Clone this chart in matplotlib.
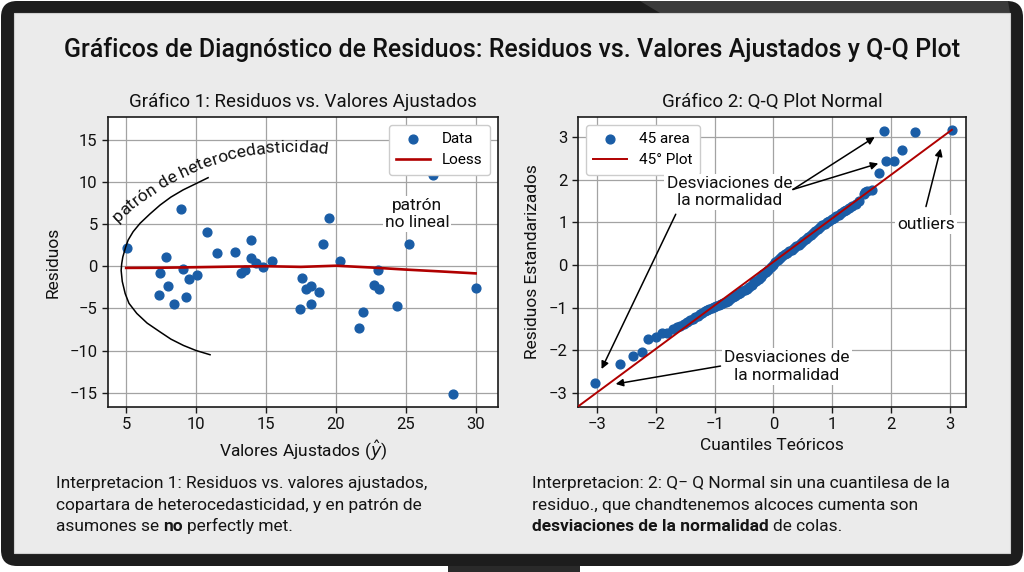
import numpy as np
import matplotlib
matplotlib.use("Agg")
import matplotlib.pyplot as plt
from matplotlib.patches import FancyBboxPatch, Rectangle, Polygon
from matplotlib.transforms import IdentityTransform

plt.rcParams['font.family'] = ['Roboto', 'DejaVu Sans']
plt.rcParams['mathtext.fontset'] = 'dejavusans'
plt.rcParams['axes.unicode_minus'] = True

# ---------------- data ----------------
fitted = [5.05, 7.34, 7.45, 7.85, 7.98, 8.43, 8.9, 9.05, 9.26, 9.5, 10.05, 10.8,
          11.5, 12.8, 13.2, 13.5, 13.9, 13.9, 14.3, 14.8, 15.4, 17.4, 17.6, 17.9,
          18.2, 18.2, 18.76, 19.05, 19.5, 20.3, 21.67, 21.95, 22.7, 23.0, 23.1,
          23.7, 24.35, 25.2, 26.95, 28.4, 30.0]
resid = [2.2, -3.45, -0.83, 1.07, -2.35, -4.49, 6.8, -0.36, -3.65, -1.55, -1.03, 4.0,
         1.6, 1.7, -0.75, -0.5, 3.06, 1.03, 0.36, -0.15, 0.63, -5.04, -1.42, -2.74,
         -2.35, -4.49, -3.06, 2.58, 5.75, 0.67, -7.38, -5.4, -2.18, -0.4, -2.66,
         5.5, -4.68, 2.58, 10.8, -15.2, -2.54]
loess_x = [5, 7.5, 10, 12.5, 15, 17.5, 20, 22.5, 25, 27.5, 30]
loess_y = [-0.2, -0.18, -0.12, -0.05, 0.0, -0.08, 0.06, -0.15, -0.4, -0.62, -0.85]

arc_x = [11.0, 10.0, 9.1, 8.2, 7.43, 6.5, 5.76, 5.2, 4.93, 4.72, 4.64, 4.68, 4.76,
         4.95, 5.14, 5.5, 6.0, 6.7, 7.43, 8.2, 9.07, 10.0, 10.86]
arc_y = [-10.5, -10.0, -9.4, -8.65, -7.8, -6.75, -5.6, -4.4, -3.25, -1.8, -0.5, 0.3,
         1.1, 2.2, 3.1, 4.1, 5.1, 6.2, 7.26, 8.2, 9.05, 9.8, 10.5]

qq_theo = [-3.03, -2.6, -2.39, -2.24, -2.13, -2.0, -1.9, -1.8, -1.71,
           -1.64, -1.58, -1.52, -1.47, -1.42, -1.37, -1.33, -1.29, -1.25, -1.21,
           -1.17, -1.13, -1.09, -1.05, -1.01, -0.97, -0.93, -0.89, -0.85, -0.81,
           -0.77, -0.73, -0.69, -0.65, -0.61, -0.57, -0.53, -0.49, -0.45, -0.41,
           -0.37, -0.33, -0.29, -0.25, -0.21, -0.17, -0.13, -0.09, -0.05, -0.01,
           0.03, 0.07, 0.11, 0.15, 0.19, 0.23, 0.27, 0.31, 0.35, 0.39, 0.43, 0.47,
           0.51, 0.55, 0.59, 0.63, 0.67, 0.71, 0.75, 0.79, 0.83, 0.87, 0.91, 0.95,
           0.99, 1.03, 1.07, 1.11, 1.15, 1.19, 1.24, 1.29, 1.34, 1.40, 1.46, 1.53,
           1.56, 1.59, 1.67,
           1.8, 1.91, 2.04, 2.18, 1.88, 2.41, 3.03]
qq_std = [-2.76, -2.31, -2.13, -2.05, -1.73, -1.69, -1.59, -1.59, -1.5,
          -1.46, -1.42, -1.38, -1.34, -1.30, -1.26, -1.22, -1.19, -1.15, -1.12,
          -1.09, -1.06, -1.03, -1.00, -0.98, -0.96, -0.94, -0.92, -0.90, -0.87,
          -0.84, -0.80, -0.76, -0.72, -0.68, -0.65, -0.61, -0.58, -0.56, -0.51,
          -0.46, -0.41, -0.37, -0.32, -0.27, -0.22, -0.17, -0.11, -0.05, 0.01,
          0.07, 0.12, 0.17, 0.21, 0.25, 0.28, 0.32, 0.36, 0.40, 0.44, 0.48, 0.52,
          0.56, 0.61, 0.65, 0.70, 0.74, 0.79, 0.84, 0.89, 0.93, 0.97, 1.01, 1.04,
          1.07, 1.10, 1.14, 1.18, 1.22, 1.26, 1.30, 1.34, 1.38, 1.44, 1.50, 1.66,
          1.72, 1.74, 1.76,
          2.15, 2.44, 2.44, 2.69, 3.14, 3.13, 3.16]
ref_x = [-3.4, 3.03]
ref_y = [-3.4, 3.17]

x1_ticks = [5, 10, 15, 20, 25, 30]
y1_ticks = [-15, -10, -5, 0, 5, 10, 15]
qq_ticks = [-3, -2, -1, 0, 1, 2, 3]

title_main = "Gráficos de Diagnóstico de Residuos: Residuos vs. Valores Ajustados y Q-Q Plot"
title_1 = "Gráfico 1: Residuos vs. Valores Ajustados"
title_2 = "Gráfico 2: Q-Q Plot Normal"
curved_label = "patrón de heterocedasticidad"

interp_left = [
    [("Interpretacion 1: Residuos vs. valores ajustados,", False)],
    [("copartara de heterocedasticidad, y en patrón de", False)],
    [("asumones se", False), ("no", True), ("perfectly met.", False)],
]
interp_right = [
    [("Interpretacion: 2: Q\u2212 Q Normal sin una cuantilesa de la", False)],
    [("residuo., que chandtenemos alcoces cumenta son", False)],
    [("desviaciones de la normalidad", True), ("de colas.", False)],
]

# ---------------- figure / frame ----------------
W, H = 1024, 572
DPI = 100
fig = plt.figure(figsize=(W / DPI, H / DPI), dpi=DPI)
fig.patch.set_facecolor('white')
ID = IdentityTransform()

def D(x, y):
    """image pixel (y down) -> display pixel (y up)"""
    return x, H - y

bx, by = D(1, 566)
fig.add_artist(FancyBboxPatch((bx, by), 1022, 565, boxstyle="round,pad=0,rounding_size=16",
                              transform=ID, facecolor='#1d1d1d', edgecolor='none', zorder=0))
fig.add_artist(Polygon([D(640, 1), D(1008, 1), D(1010, 13), D(660, 13)], closed=True,
                       transform=ID, facecolor='#3b3b3b', edgecolor='none', zorder=0.5))
sx, sy = D(14, 553)
fig.add_artist(Rectangle((sx, sy), 996, 540, transform=ID, facecolor='#ebebeb',
                         edgecolor='#cfcfcf', lw=0.8, zorder=1))
stx, sty = D(448, 572)
fig.add_artist(Rectangle((stx, sty), 132, 6, transform=ID, facecolor='#2a2a2a',
                         edgecolor='none', zorder=0))

BLUE = '#1a5da6'
RED = '#b00000'
GRID = '#a3a3a3'
INK = '#111111'

fig.text(512 / W, 1 - 50 / H, title_main, ha='center', va='center', fontsize=18,
         weight='medium', color=INK, zorder=5)

def style_axes(ax):
    ax.set_facecolor('white')
    ax.grid(True, color=GRID, lw=0.9)
    ax.set_axisbelow(True)
    for sp in ax.spines.values():
        sp.set_color('#1a1a1a')
        sp.set_linewidth(1.2)
    ax.tick_params(labelsize=12, length=4, width=1, color='#1a1a1a', labelcolor=INK)

# ---------------- left panel ----------------
ax1 = fig.add_axes([108 / W, 1 - 407 / H, 390 / W, 290 / H], zorder=3)
style_axes(ax1)
ax1.scatter(fitted, resid, s=40, color=BLUE, zorder=3, label='Data')
ax1.plot(loess_x, loess_y, color=RED, lw=1.9, zorder=4, label='Loess')
ax1.plot(arc_x, arc_y, color='black', lw=1.1, zorder=4)
ax1.set_xlim(3.7, 31.6)
ax1.set_ylim(-16.7, 17.7)
ax1.set_xticks(x1_ticks)
ax1.set_yticks(y1_ticks)
ax1.set_xlabel(r"Valores Ajustados ($\hat{y}$)", fontsize=12.5, labelpad=4, color=INK)
ax1.set_ylabel("Residuos", fontsize=12.5, labelpad=6, color=INK)
ax1.set_title(title_1, fontsize=13.5, pad=7, color=INK)
ax1.legend(loc='upper right', fontsize=11, framealpha=1, edgecolor='#cccccc',
           scatterpoints=1, handlelength=2.2, borderpad=0.5, labelspacing=0.45)
ax1.text(25.8, 6.2, "patrón\nno lineal", ha='center', va='center', fontsize=12.5,
         linespacing=1.2, zorder=5, color=INK,
         bbox=dict(facecolor='white', edgecolor='none', pad=1.5))

# ---------------- right panel ----------------
ax2 = fig.add_axes([578 / W, 1 - 407 / H, 388 / W, 290 / H], zorder=3)
style_axes(ax2)
ax2.scatter(qq_theo, qq_std, s=40, color=BLUE, zorder=3, label='45 area')
ax2.plot(ref_x, ref_y, color=RED, lw=1.4, zorder=4, label='45° Plot')
ax2.set_xlim(-3.32, 3.27)
ax2.set_ylim(-3.33, 3.47)
ax2.set_xticks(qq_ticks)
ax2.set_yticks(qq_ticks)
ax2.set_xlabel("Cuantiles Teóricos", fontsize=12.5, labelpad=4, color=INK)
ax2.set_ylabel("Residuos Estandarizados", fontsize=12.5, labelpad=6, color=INK)
ax2.set_title(title_2, fontsize=13.5, pad=7, color=INK)
ax2.legend(loc='upper left', fontsize=11, framealpha=1, edgecolor='#cccccc',
           scatterpoints=1, handlelength=2.2, borderpad=0.5, labelspacing=0.45)

arr = dict(arrowstyle='-|>', color='black', lw=1.1, mutation_scale=11,
           shrinkA=0, shrinkB=0)
ax2.text(-0.75, 1.71, "Desviaciones de\nla normalidad", ha='center', va='center',
         fontsize=12.5, linespacing=1.2, zorder=6, color=INK,
         bbox=dict(facecolor='white', edgecolor='none', pad=1.5))
ax2.annotate('', xy=(1.72, 3.0), xytext=(0.33, 1.77), arrowprops=arr, zorder=6)
ax2.annotate('', xy=(1.78, 2.38), xytext=(0.33, 1.77), arrowprops=arr, zorder=6)
ax2.annotate('', xy=(-2.92, -2.44), xytext=(-1.66, 1.19), arrowprops=arr, zorder=6)

ax2.text(0.23, -2.38, "Desviaciones de\nla normalidad", ha='center', va='center',
         fontsize=12.5, linespacing=1.2, zorder=6, color=INK,
         bbox=dict(facecolor='white', edgecolor='none', pad=1.5))
ax2.annotate('', xy=(-2.68, -2.79), xytext=(-0.9, -2.37), arrowprops=arr, zorder=6)

ax2.text(2.59, 0.94, "outliers", ha='center', va='center', fontsize=12.5, zorder=6,
         color=INK, bbox=dict(facecolor='white', edgecolor='none', pad=1.5))
ax2.annotate('', xy=(2.84, 2.73), xytext=(2.59, 1.37), arrowprops=arr, zorder=6)

# ---------------- curved label (letters of real text placed along an arc) ----------------
renderer = fig.canvas.get_renderer()

def text_w(s, fs, weight='normal'):
    t = fig.text(0, 0, s, fontsize=fs, weight=weight, transform=ID)
    w = t.get_window_extent(renderer).width
    t.remove()
    return w

p1 = np.array(D(118, 223), float)
p2 = np.array(D(176, 181), float)
p3 = np.array(D(326, 154), float)

def circle3(a, b, c):
    ax_, ay_ = a; bx_, by_ = b; cx_, cy_ = c
    d = 2 * (ax_ * (by_ - cy_) + bx_ * (cy_ - ay_) + cx_ * (ay_ - by_))
    ux = ((ax_**2 + ay_**2) * (by_ - cy_) + (bx_**2 + by_**2) * (cy_ - ay_) + (cx_**2 + cy_**2) * (ay_ - by_)) / d
    uy = ((ax_**2 + ay_**2) * (cx_ - bx_) + (bx_**2 + by_**2) * (ax_ - cx_) + (cx_**2 + cy_**2) * (bx_ - ax_)) / d
    return np.array([ux, uy])

cen = circle3(p1, p2, p3)
R = np.linalg.norm(p1 - cen)
th1 = np.arctan2(p1[1] - cen[1], p1[0] - cen[0])
th3 = np.arctan2(p3[1] - cen[1], p3[0] - cen[0])
arc_len = R * abs(th1 - th3)

fs0 = 12.5
fs_curve = fs0 * arc_len / text_w(curved_label, fs0)
sdir = -1 if th3 < th1 else 1
for i, ch in enumerate(curved_label):
    if ch == ' ':
        continue
    prefix = curved_label[:i]
    wc = text_w(ch, fs_curve)
    # ink centre of this letter inside the horizontally laid-out label
    centre = (text_w(prefix + ch, fs_curve) - wc / 2) if prefix else wc / 2
    th = th1 + sdir * centre / R
    px_ = cen[0] + R * np.cos(th)
    py_ = cen[1] + R * np.sin(th)
    rot = np.degrees(th) + (-90 if sdir < 0 else 90)
    fig.text(px_, py_, ch, transform=ID, fontsize=fs_curve, rotation=rot,
             rotation_mode='anchor', ha='center', va='baseline', zorder=6,
             color=INK)

# ---------------- interpretation texts ----------------
FS_I = 12.5
space_w = text_w('a a', FS_I) - text_w('aa', FS_I)

def rich_lines(x0, baselines, lines):
    for yb, segs in zip(baselines, lines):
        x = x0
        for txt, bold in segs:
            t = fig.text(*D(x, yb), txt, transform=ID, fontsize=FS_I,
                         weight='bold' if bold else 'normal', ha='left', va='baseline',
                         color='#151515', zorder=6)
            x = t.get_window_extent(renderer).x1 + space_w

rich_lines(56, [488, 510, 531], interp_left)
rich_lines(532, [488, 510, 531], interp_right)

fig.savefig("out.png", dpi=DPI, facecolor=fig.get_facecolor())
